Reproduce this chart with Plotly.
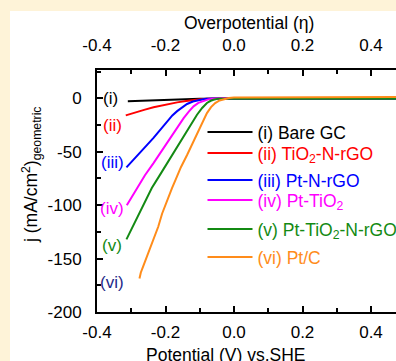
import plotly.graph_objects as go

# ---------------- data ----------------
names = [
    "(i) Bare GC",
    "(ii) TiO<sub>2</sub>-N-rGO",
    "(iii) Pt-N-rGO",
    "(iv) Pt-TiO<sub>2</sub>",
    "(v) Pt-TiO<sub>2</sub>-N-rGO",
    "(vi) Pt/C",
]
colors = ["#000000", "#FF0000", "#0000FF", "#FF00FF", "#138A13", "#FF8C1A"]

v_i = [-0.31, -0.28, -0.25, -0.22, -0.19, -0.16, -0.13, -0.10, -0.07, 0.0, 0.2, 0.473]
j_i = [-2.8, -2.4, -2.0, -1.7, -1.4, -1.1, -0.8, -0.5, -0.3, -0.2, -0.2, -0.2]

v_ii = [-0.316, -0.29, -0.26, -0.235, -0.21, -0.19, -0.166, -0.14, -0.12, -0.098, -0.08, -0.06, 0.0, 0.2, 0.473]
j_ii = [-16, -13.3, -10.6, -8.4, -6.7, -5.2, -3.8, -2.6, -1.6, -0.8, -0.4, -0.2, 0, 0, 0]

v_iii = [-0.314, -0.294, -0.274, -0.255, -0.235, -0.215, -0.196, -0.18, -0.166, -0.15,
         -0.137, -0.12, -0.108, -0.09, -0.079, -0.06, 0.0, 0.2, 0.473]
j_iii = [-64.7, -58, -51, -44, -37, -29.5, -21.6, -16, -12, -8.2,
         -5.3, -3.0, -1.9, -0.9, -0.5, -0.2, -0.3, -0.4, -0.4]

v_iv = [-0.313, -0.298, -0.283, -0.26, -0.235, -0.21, -0.186, -0.165, -0.147, -0.132,
        -0.118, -0.104, -0.089, -0.075, -0.06, -0.04, 0.0, 0.2, 0.473]
j_iv = [-100, -92, -84, -72, -60.6, -48.5, -37, -27, -18.5, -12.5,
        -7.5, -4.3, -2.2, -1.0, -0.3, 0, 0, 0, 0]

v_v = [-0.314, -0.29, -0.265, -0.24, -0.213, -0.186, -0.162, -0.137, -0.122, -0.108,
       -0.093, -0.079, -0.068, -0.06, -0.045, 0.0, 0.2, 0.473]
j_v = [-132, -116, -100, -84, -70, -56, -43.5, -31, -23, -15.4,
       -9, -4.4, -2.3, -1.3, -0.3, -0.3, -0.4, -0.4]

v_vi = [-0.276, -0.272, -0.266, -0.26, -0.252, -0.243, -0.232, -0.221, -0.21, -0.196,
        -0.181, -0.171, -0.155, -0.137, -0.122, -0.108, -0.093, -0.079, -0.067, -0.055,
        -0.042, -0.03, -0.015, 0.0, 0.2, 0.473]
j_vi = [-168.7, -163, -158, -153, -147, -140, -131, -120, -108, -96,
        -84, -76.6, -64.5, -53, -42.5, -32.5, -22.5, -13.8, -8.2, -4.4,
        -2.0, -0.7, 0.3, 0.8, 1.2, 1.2]

series_v = [v_i, v_ii, v_iii, v_iv, v_v, v_vi]
series_j = [j_i, j_ii, j_iii, j_iv, j_v, j_vi]

curve_labels = ["(i)", "(ii)", "(iii)", "(iv)", "(v)", "(vi)"]
label_colors = ["#000000", "#FF0000", "#0000FF", "#FF00FF", "#138A13", "#1F2A8A"]
label_x = [-0.36, -0.355, -0.355, -0.355, -0.355, -0.355]
label_y = [0, -25, -60, -103, -138, -172]

x_ticks = [-0.4, -0.2, 0.0, 0.2, 0.4]
y_ticks = [0, -50, -100, -150, -200]

FONT = "Arial, Liberation Sans, sans-serif"

# plot-area geometry in pixels (used to place paper-referenced items)
L, T, W, H = 97, 70, 299, 242
def px(xp):
    return (xp - L) / W
def py(yp):
    return (T + H - yp) / H

legend_rows = [132, 153, 180, 200, 229, 257]   # pixel centres of legend rows
legend_ids = ["legend", "legend2", "legend3", "legend4", "legend5", "legend6"]

fig = go.Figure()
for name, c, v, j, lid in zip(names, colors, series_v, series_j, legend_ids):
    fig.add_trace(go.Scatter(
        x=v, y=j, mode="lines",
        name=f'<span style="color:{c}">{name}</span>',
        line=dict(color=c, width=2),
        legend=lid,
    ))
# empty trace so that the top (overpotential) axis is drawn
fig.add_trace(go.Scatter(x=[None], y=[None], xaxis="x2", showlegend=False,
                         hoverinfo="skip"))

for t, c, x, y in zip(curve_labels, label_colors, label_x, label_y):
    fig.add_annotation(x=x, y=y, text=t, showarrow=False,
                       font=dict(color=c, size=17, family=FONT),
                       xanchor="center", yanchor="middle")

xr = [-0.4, 0.473]
axis_common = dict(
    showline=True, linecolor="black", linewidth=2,
    ticks="inside", ticklen=6, tickwidth=1.5, tickcolor="black",
    showgrid=False, zeroline=False,
    tickfont=dict(size=17, color="black", family=FONT),
)
legend_layout = {}
for lid, row in zip(legend_ids, legend_rows):
    legend_layout[lid] = dict(x=px(202.5), y=py(row), xanchor="left", yanchor="middle",
                              bgcolor="rgba(0,0,0,0)",
                              font=dict(size=17.5, family=FONT),
                              itemwidth=45)

fig.update_layout(
    width=396, height=361, autosize=False,
    margin=dict(l=L, r=0, t=T, b=361 - T - H, autoexpand=False),
    paper_bgcolor="#FEF3D8",
    plot_bgcolor="white",
    font=dict(family=FONT, color="black"),
    xaxis=dict(range=xr, tickvals=x_ticks, ticktext=[f"{t:.1f}" for t in x_ticks],
               minor=dict(dtick=0.1, ticks="inside", ticklen=4, tickwidth=1.5, tickcolor="black"),
               ticklabelstandoff=4, automargin=False, **axis_common),
    xaxis2=dict(range=xr, overlaying="x", side="top", anchor="y",
                tickvals=x_ticks, ticktext=[f"{t:.1f}" for t in x_ticks],
                minor=dict(dtick=0.1, ticks="inside", ticklen=4, tickwidth=1.5, tickcolor="black"),
                ticklabelstandoff=10, automargin=False, **axis_common),
    yaxis=dict(range=[-200, 26.5], tickvals=y_ticks, ticktext=[str(t) for t in y_ticks],
               minor=dict(dtick=25, ticks="inside", ticklen=4, tickwidth=1.5, tickcolor="black"),
               ticklabelstandoff=10, automargin=False, **axis_common),
    showlegend=True,
    **legend_layout,
)

# white panel behind the figure
fig.add_shape(type="rect", xref="paper", yref="paper",
              x0=px(10), x1=1.2, y0=-0.3, y1=py(11),
              fillcolor="white", line=dict(width=0), layer="below")

# axis titles
fig.add_annotation(xref="paper", yref="paper", x=px(249), y=py(23),
                   text="Overpotential (\u03b7)", showarrow=False,
                   font=dict(size=17.5, family=FONT, color="black"),
                   xanchor="center", yanchor="middle")
fig.add_annotation(xref="paper", yref="paper", x=px(226), y=py(355),
                   text="Potential (V) vs.SHE", showarrow=False,
                   font=dict(size=17.5, family=FONT, color="black"),
                   xanchor="center", yanchor="middle")
fig.add_annotation(xref="paper", yref="paper", x=px(31), y=py(175),
                   text="j (mA/cm<sup>2</sup>)<sub>geometric</sub>", showarrow=False,
                   textangle=-90,
                   font=dict(size=17.5, family=FONT, color="black"),
                   xanchor="center", yanchor="middle")

fig.write_html("out.html",
               config={"displayModeBar": False},
               post_script="document.body.style.margin='0';document.body.style.overflow='hidden';")
